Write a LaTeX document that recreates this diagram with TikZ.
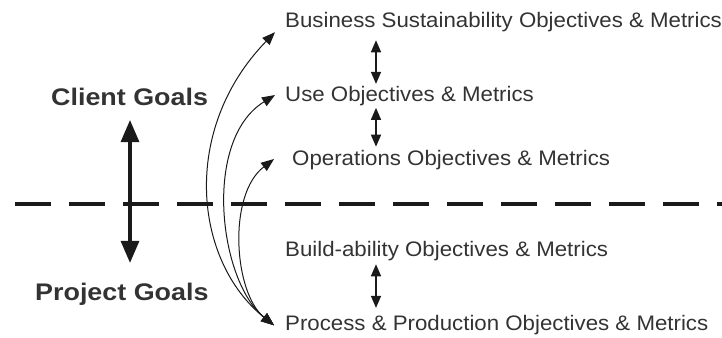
\documentclass[tikz,border=0pt]{standalone}
\usepackage{fontspec}
\setmainfont{Liberation Sans}[FakeStretch=1.12]
\newfontfamily\objfont{Liberation Sans}[FakeStretch=1.06]
\usetikzlibrary{arrows.meta,calc}
\definecolor{ink}{HTML}{333333}
\definecolor{strokecol}{HTML}{1A1A1A}
\begin{document}
\begin{tikzpicture}[x=1pt,y=-1pt,
  objective/.style={anchor=base west, inner sep=2pt, text=ink,
    font=\objfont\fontsize{21}{25}\selectfont},
  goal/.style={anchor=base west, inner sep=2pt, text=ink,
    font=\fontsize{24}{28}\selectfont\bfseries},
  link/.style={draw=strokecol, line width=1pt,
    {Triangle[length=13pt,width=10pt]}-{Triangle[length=13pt,width=10pt]}},
  pairarrow/.style={draw=strokecol, line width=1.5pt,
    {Triangle[length=12pt,width=10pt]}-{Triangle[length=12pt,width=10pt]}},
  bigarrow/.style={draw=strokecol, line width=3.2pt,
    {Triangle[length=22pt,width=18pt]}-{Triangle[length=22pt,width=18pt]}},
  divider/.style={draw=strokecol, line width=3.8pt, dash pattern=on 36pt off 18pt}
]
\useasboundingbox (0,0) rectangle (722,337);

% objectives and metrics
\node[objective] (bso)   at (283,27.7)  {Business Sustainability Objectives \& Metrics};
\node[objective] (use)   at (283,101.3) {Use Objectives \& Metrics};
\node[objective] (ops)   at (290,165.7) {Operations Objectives \& Metrics};
\node[objective] (build) at (283,256.7) {Build-ability Objectives \& Metrics};
\node[objective] (proc)  at (283,330.7) {Process \& Production Objectives \& Metrics};

% goal labels
\node[goal] (client)  at (49,105)  {Client Goals};
\node[goal] (project) at (33,300)  {Project Goals};

% divider between client and project goals
\coordinate (divL) at (15,204);
\coordinate (divR) at (722,204);
\draw[divider] (divL) -- (divR);

% vertical goal arrow
\coordinate (goalaxis) at (130,0);
\draw[bigarrow, shorten <=12.6pt, shorten >=17.5pt]
  (client.south -| goalaxis) -- (project.north -| goalaxis);

% arrows between neighbouring objectives
\coordinate (pairaxis) at (376,0);
\draw[pairarrow, shorten <=6pt] (bso.south -| pairaxis) -- (use.north -| pairaxis);
\draw[pairarrow, shorten >=1.6pt] (use.south -| pairaxis) -- (ops.north -| pairaxis);
\draw[pairarrow, shorten <=1pt, shorten >=5.4pt] (build.south -| pairaxis) -- (proc.north -| pairaxis);

% links from process & production up to the client objectives
\draw[link] ([xshift=-9pt]proc.west) .. controls +(-80,-64) and +(-95,98) ..
  ([shift={(-8,-2.1)}]bso.south west);
\draw[link] ([xshift=-9pt]proc.west) .. controls +(-55,-44) and +(-73,45) ..
  ([shift={(-8,-0.85)}]use.west);
\draw[link] ([xshift=-9pt]proc.west) .. controls +(-40,-32) and +(-47,36) ..
  ([shift={(-16,-1.25)}]ops.west);
\end{tikzpicture}
\end{document}
